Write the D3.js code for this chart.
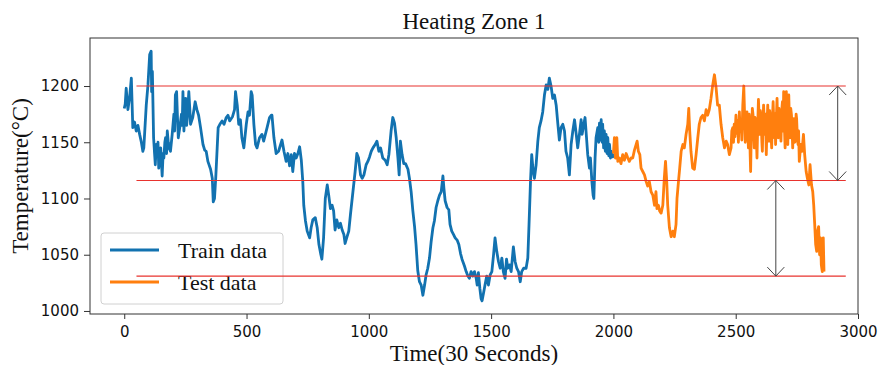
<!DOCTYPE html>
<html>
<head>
<meta charset="utf-8">
<script src="https://cdn.jsdelivr.net/npm/d3@7"></script>
<style>
  html, body { margin: 0; padding: 0; background: #fff; }
  svg { display: block; }
</style>
</head>
<body>
<svg id="chart" width="878" height="365"></svg>
<script>
// Furnace heating zone 1 temperature, sampled every 30 s: [time step, °C]
const trainPoints = [
  [0,1180],[4,1184],[8,1198],[15,1179],[22,1190],[29,1207],[35,1163],[42,1168],[49,1160],[56,1165],
  [63,1157],[70,1150],[76,1142],[80,1145],[90,1183],[97,1201],[104,1228],[110,1231],[112,1195],[115,1213],
  [120,1154],[124,1140],[127,1130],[131,1148],[135,1139],[138,1150],[141,1127],[145,1138],[149,1145],[152,1132],
  [155,1120],[159,1140],[162,1136],[166,1150],[169,1154],[173,1140],[176,1160],[180,1150],[183,1145],
  [189,1142],[196,1157],[203,1175],[206,1160],[209,1192],[214,1195],[218,1170],[221,1154],[227,1163],[234,1175],[237,1165],[240,1195],[244,1160],
  [248,1178],[251,1189],[255,1165],[258,1172],[264,1195],[268,1180],[271,1166],[280,1172],[290,1186],[297,1179],[304,1174],[312,1163],[322,1148],
  [329,1143],[335,1142],[342,1133],[353,1126],[360,1118],[364,1097],[369,1100],[374,1118],[380,1145],[384,1163],
  [391,1166],[400,1169],[408,1166],[417,1172],[424,1174],[431,1169],[443,1173],[451,1179],[455,1195],[462,1183],
  [468,1166],[475,1170],[481,1154],[489,1145],[499,1166],[506,1177],[512,1174],[519,1195],[523,1192],[530,1166],
  [537,1148],[543,1145],[553,1154],[563,1157],[570,1151],[577,1157],[584,1163],[594,1172],[601,1174],[604,1174],
  [612,1154],[621,1140],[631,1142],[645,1152],[653,1142],[662,1133],[669,1140],[676,1129],[683,1139],[689,1124],
  [696,1140],[703,1136],[710,1140],[717,1146],[724,1134],[730,1115],[734,1094],[741,1080],[748,1071],[758,1065],
  [764,1074],[771,1081],[781,1083],[789,1074],[796,1059],[803,1051],[808,1046],[815,1065],[822,1100],[830,1112],
  [836,1103],[843,1091],[850,1094],[856,1089],[862,1072],[869,1081],[877,1074],[884,1078],[891,1072],[898,1068],
  [903,1060],[911,1066],[918,1071],[925,1086],[935,1106],[944,1124],[951,1140],[958,1136],[966,1121],[973,1118],
  [980,1121],[989,1130],[996,1133],[1003,1137],[1010,1142],[1017,1145],[1026,1148],[1033,1151],[1041,1142],[1048,1145],
  [1057,1136],[1067,1134],[1075,1130],[1082,1139],[1091,1160],[1098,1172],[1105,1167],[1112,1154],[1119,1136],[1124,1121],
  [1129,1151],[1136,1139],[1143,1131],[1150,1131],[1160,1126],[1166,1118],[1173,1106],[1180,1089],[1187,1075],[1193,1059],
  [1200,1036],[1207,1026],[1214,1023],[1221,1014],[1228,1023],[1234,1032],[1241,1038],[1248,1047],[1255,1062],[1262,1074],
  [1268,1080],[1275,1092],[1282,1098],[1289,1103],[1296,1106],[1303,1120],[1307,1109],[1312,1098],[1320,1092],[1327,1090],
  [1332,1077],[1339,1071],[1346,1068],[1353,1065],[1361,1063],[1368,1059],[1375,1051],[1381,1046],[1391,1040],[1398,1035],
  [1405,1031],[1411,1029],[1418,1035],[1425,1031],[1432,1035],[1439,1029],[1443,1023],[1448,1034],[1454,1020],[1459,1011],
  [1463,1009],[1469,1016],[1475,1023],[1482,1031],[1489,1023],[1496,1032],[1503,1035],[1510,1050],[1516,1065],[1523,1053],
  [1530,1044],[1537,1038],[1544,1047],[1550,1035],[1557,1029],[1563,1046],[1568,1038],[1575,1041],[1582,1035],[1591,1057],
  [1598,1044],[1605,1038],[1612,1035],[1619,1026],[1625,1035],[1633,1038],[1643,1038],[1650,1047],[1655,1077],[1661,1115],
  [1666,1139],[1672,1124],[1677,1118],[1684,1130],[1691,1151],[1697,1163],[1704,1169],[1711,1177],[1718,1192],[1725,1201],
  [1732,1197],[1738,1207],[1745,1200],[1752,1189],[1759,1192],[1766,1183],[1773,1166],[1779,1152],[1786,1163],[1793,1166],
  [1800,1160],[1806,1142],[1813,1136],[1820,1121],[1827,1148],[1834,1160],[1841,1170],[1848,1157],[1854,1145],[1861,1157],
  [1868,1170],[1872,1157],[1879,1166],[1884,1172],[1890,1154],[1895,1139],[1902,1127],[1906,1136],[1912,1115],[1917,1103],
  [1920,1100],[1925,1136],[1929,1154],[1936,1163],[1940,1150],[1943,1167],[1947,1152],[1950,1170],[1954,1150],[1956,1166],
  [1960,1145],[1963,1160],[1967,1142],[1970,1157],[1974,1140],[1977,1154],[1981,1138],[1984,1148],[1988,1136],[1990,1142],
  [1997,1137],[2000,1140]
];

const testPoints = [
  [2000,1140],[2004,1154],[2008,1136],[2014,1154],[2018,1133],[2024,1136],[2031,1131],[2038,1139],[2045,1134],[2052,1140],
  [2059,1136],[2065,1133],[2072,1136],[2079,1136],[2086,1143],[2093,1148],[2097,1151],[2102,1142],[2108,1139],[2113,1127],
  [2120,1124],[2127,1121],[2134,1115],[2140,1111],[2147,1115],[2154,1106],[2161,1103],[2168,1094],[2174,1106],[2178,1091],
  [2184,1094],[2189,1089],[2195,1087],[2202,1094],[2208,1118],[2213,1133],[2218,1115],[2222,1094],[2229,1074],[2236,1066],
  [2243,1071],[2249,1066],[2256,1077],[2260,1100],[2266,1115],[2271,1127],[2277,1142],[2284,1148],[2290,1145],[2297,1157],
  [2304,1166],[2308,1180],[2312,1160],[2317,1142],[2324,1127],[2331,1126],[2338,1139],[2345,1154],[2351,1166],[2358,1172],
  [2365,1174],[2372,1169],[2379,1179],[2385,1174],[2392,1179],[2399,1189],[2406,1201],[2413,1210],[2420,1198],[2426,1183],
  [2433,1183],[2440,1166],[2447,1154],[2454,1145],[2461,1151],[2467,1148],[2474,1139],
  [2481,1145],[2484,1160],[2488,1163],[2491,1150],[2494,1166],[2497,1155],[2501,1174],[2504,1158],[2508,1169],[2511,1150],
  [2515,1177],[2518,1160],[2522,1169],[2525,1152],[2529,1183],[2533,1200],[2536,1177],[2539,1150],[2542,1160],[2546,1177],
  [2549,1162],[2552,1145],[2555,1175],[2557,1169],[2559,1140],[2561,1124],[2563,1150],[2565,1160],[2568,1180],[2571,1174],
  [2574,1155],[2576,1145],[2579,1172],[2582,1169],[2585,1150],[2587,1136],[2590,1165],[2593,1188],[2596,1170],[2598,1157],
  [2601,1178],[2604,1171],[2607,1150],[2609,1142],[2612,1170],[2614,1183],[2617,1165],[2620,1157],[2622,1175],[2625,1139],
  [2628,1165],[2631,1183],[2634,1160],[2636,1151],[2639,1178],[2642,1171],[2645,1155],[2647,1145],[2650,1170],[2653,1186],
  [2656,1165],[2658,1154],[2661,1175],[2663,1148],[2666,1170],[2669,1189],[2672,1162],[2674,1154],[2677,1180],[2680,1169],
  [2683,1160],[2685,1151],[2688,1178],[2691,1186],[2694,1160],[2696,1195],[2699,1165],[2702,1145],[2705,1175],[2707,1195],
  [2710,1160],[2713,1148],[2715,1178],[2717,1192],[2720,1165],[2722,1154],[2725,1180],[2728,1174],[2731,1158],[2733,1145],
  [2736,1168],[2738,1171],[2741,1150],[2744,1151],[2747,1175],[2749,1171],[2752,1155],[2755,1148],[2757,1160],[2760,1133],
  [2766,1148],[2771,1142],[2777,1157],[2782,1139],[2788,1124],[2793,1118],[2799,1112],[2804,1130],[2810,1112],[2815,1106],
  [2819,1094],[2823,1077],[2827,1059],[2831,1053],[2835,1071],[2839,1075],[2843,1050],[2847,1065],[2850,1041],[2854,1035],
  [2858,1065],[2861,1035]
];

// Horizontal reference levels (°C) and their span along the time axis
const bandLevels = [1200, 1116, 1031];
const bandSpan = [50, 2950];

// Double-headed range markers: [time step, lower °C, upper °C]
const rangeMarkers = [[2917, 1116, 1200], [2664, 1031, 1116]];

const xTicks = [0, 500, 1000, 1500, 2000, 2500, 3000];
const yTicks = [1000, 1050, 1100, 1150, 1200];

const seriesNames = ["Train data", "Test data"];
const seriesColors = ["#1272b0", "#ff7f0e"];

const titleText = "Heating Zone 1";
const xLabel = "Time(30 Seconds)";
const yLabel = "Temperature(°C)";

// ---- layout ----
const plot = { left: 90, right: 858, top: 38, bottom: 314 };
const serif = "'Liberation Serif', 'Times New Roman', serif";
const sans = "'DejaVu Sans', sans-serif";

const svg = d3.select("#chart");

const x = d3.scaleLinear().domain([-140, 3000]).range([plot.left, plot.right]);
const y = d3.scaleLinear().domain([997.3, 1242.7]).range([plot.bottom, plot.top]);

// axes
const xAxis = svg.append("g")
  .attr("transform", `translate(0,${plot.bottom})`)
  .call(d3.axisBottom(x).tickValues(xTicks).tickSize(5).tickPadding(7).tickFormat(d3.format("d")));
const yAxis = svg.append("g")
  .attr("transform", `translate(${plot.left},0)`)
  .call(d3.axisLeft(y).tickValues(yTicks).tickSize(6).tickPadding(5).tickFormat(d3.format("d")));

[xAxis, yAxis].forEach(g => {
  g.select(".domain").remove();
  g.selectAll(".tick line").attr("stroke", "#333").attr("stroke-width", 1);
  g.selectAll(".tick text").attr("fill", "#111").style("font-family", sans).style("font-size", "15px");
});

// data lines
const line = d3.line().x(d => x(d[0])).y(d => y(d[1]));
svg.append("path").datum(trainPoints)
  .attr("d", line).attr("fill", "none")
  .attr("stroke", seriesColors[0]).attr("stroke-width", 2.8).attr("stroke-linejoin", "round");
svg.append("path").datum(testPoints)
  .attr("d", line).attr("fill", "none")
  .attr("stroke", seriesColors[1]).attr("stroke-width", 2.8).attr("stroke-linejoin", "round");

// legend
const legend = svg.append("g");
legend.append("rect")
  .attr("x", 101).attr("y", 233).attr("width", 182).attr("height", 71).attr("rx", 3)
  .attr("fill", "#fff").attr("fill-opacity", 0.8).attr("stroke", "#d0d0d0").attr("stroke-width", 1);
seriesNames.forEach((name, i) => {
  const ly = 250 + i * 32;
  legend.append("line")
    .attr("x1", 110).attr("x2", 159).attr("y1", ly).attr("y2", ly)
    .attr("stroke", seriesColors[i]).attr("stroke-width", 2.8);
  legend.append("text")
    .attr("x", 178).attr("y", ly + 8)
    .style("font-family", serif).style("font-size", "22px").attr("fill", "#111")
    .text(name);
});

// reference levels
svg.append("g").selectAll("line").data(bandLevels).join("line")
  .attr("x1", x(bandSpan[0])).attr("x2", x(bandSpan[1]))
  .attr("y1", d => y(d)).attr("y2", d => y(d))
  .attr("stroke", "#e8332e").attr("stroke-width", 1.1);

// range markers with open arrow heads at both ends
const head = { w: 8.5, l: 9 };
const markers = svg.append("g").attr("fill", "none").attr("stroke", "#444").attr("stroke-width", 1);
rangeMarkers.forEach(([t, lo, hi]) => {
  const mx = x(t), yTop = y(hi), yBot = y(lo);
  markers.append("line").attr("x1", mx).attr("x2", mx).attr("y1", yTop).attr("y2", yBot);
  markers.append("path").attr("d", `M${mx - head.w},${yTop + head.l}L${mx},${yTop}L${mx + head.w},${yTop + head.l}`);
  markers.append("path").attr("d", `M${mx - head.w},${yBot - head.l}L${mx},${yBot}L${mx + head.w},${yBot - head.l}`);
});

// frame
svg.append("rect")
  .attr("x", plot.left).attr("y", plot.top)
  .attr("width", plot.right - plot.left).attr("height", plot.bottom - plot.top)
  .attr("fill", "none").attr("stroke", "#333").attr("stroke-width", 1);

// titles
svg.append("text")
  .attr("x", (plot.left + plot.right) / 2).attr("y", 29).attr("text-anchor", "middle")
  .style("font-family", serif).style("font-size", "23px").attr("fill", "#111")
  .text(titleText);
svg.append("text")
  .attr("x", (plot.left + plot.right) / 2).attr("y", 361).attr("text-anchor", "middle")
  .style("font-family", serif).style("font-size", "23px").attr("fill", "#111")
  .text(xLabel);
svg.append("text")
  .attr("transform", `translate(28,${(plot.top + plot.bottom) / 2}) rotate(-90)`)
  .attr("text-anchor", "middle")
  .style("font-family", serif).style("font-size", "23px").attr("fill", "#111")
  .text(yLabel);
</script>
</body>
</html>
